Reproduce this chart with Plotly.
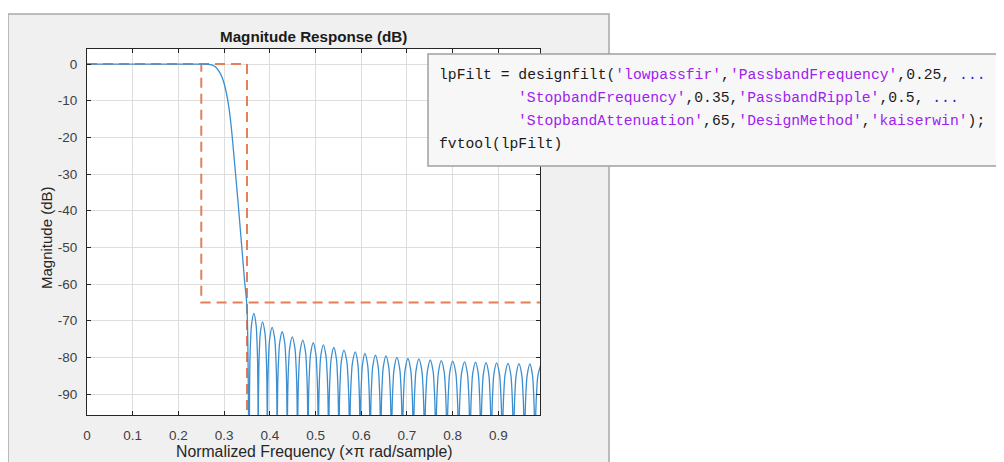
import plotly.graph_objects as go

# ---------------- data ----------------
# passband + transition band of the magnitude response
trans_freq = [0.0, 0.05, 0.10, 0.15, 0.20, 0.25, 0.26, 0.265, 0.27, 0.275, 0.28, 0.285,
              0.29, 0.295, 0.30, 0.305, 0.31, 0.315, 0.32, 0.325, 0.33, 0.335, 0.34,
              0.345, 0.35]
trans_db = [0.0, 0.0, 0.0, 0.0, 0.0, 0.0, -0.02, -0.06, -0.15, -0.35, -0.7, -1.3,
            -2.2, -3.5, -5.3, -7.9, -11.5, -16.5, -23.0, -30.0, -37.0, -44.5, -52.0,
            -59.5, -66.5]

# stopband: null positions and sidelobe peaks
null_freq = [0.355, 0.3745, 0.3945, 0.416, 0.438, 0.4605, 0.4835, 0.506, 0.5285,
             0.551, 0.5745, 0.5975, 0.6195, 0.6425, 0.666, 0.690, 0.714, 0.7385,
             0.763, 0.7875, 0.813, 0.838, 0.8615, 0.8845, 0.9085, 0.933, 0.957, 0.980]
peak_freq = [0.365, 0.384, 0.405, 0.427, 0.449, 0.472, 0.495, 0.517, 0.540,
             0.562, 0.587, 0.608, 0.631, 0.654, 0.678, 0.702, 0.726, 0.751,
             0.775, 0.800, 0.826, 0.850, 0.873, 0.896, 0.921, 0.945, 0.969, 0.993]
peak_db = [-68.0, -70.3, -71.8, -73.0, -74.4, -75.3, -76.0, -76.6, -77.3,
           -78.0, -78.5, -78.9, -79.4, -79.6, -80.0, -80.3, -80.4, -80.7,
           -80.9, -81.0, -81.2, -81.3, -81.4, -81.5, -81.6, -81.7, -81.8, -81.9]
null_db = -130.0
# sidelobe outline as seen in the picture: fraction of the way from peak to null,
# and drop below the peak (dB)
lobe_frac = [0.5, 0.7, 0.85, 0.95]
lobe_drop = [-3.0, -7.0, -12.5, -22.0]

# specification mask
f_pass, f_stop = 0.25, 0.35
a_pass, a_stop = 0.0, -65.0

x_ticks = [0, 0.1, 0.2, 0.3, 0.4, 0.5, 0.6, 0.7, 0.8, 0.9]
x_tick_text = ["0", "0.1", "0.2", "0.3", "0.4", "0.5", "0.6", "0.7", "0.8", "0.9"]
y_ticks = [0, -10, -20, -30, -40, -50, -60, -70, -80, -90]
y_tick_text = ["0", "-10", "-20", "-30", "-40", "-50", "-60", "-70", "-80", "-90"]

code_lines = [
    ("lpFilt = designfilt(", [("'lowpassfir'", "s"), (",", "k"), ("'PassbandFrequency'", "s"),
                              (",0.25, ", "k"), ("...", "c")]),
    ("", [("'StopbandFrequency'", "s"), (",0.35,", "k"), ("'PassbandRipple'", "s"),
          (",0.5, ", "k"), ("...", "c")]),
    ("", [("'StopbandAttenuation'", "s"), (",65,", "k"), ("'DesignMethod'", "s"),
          (",", "k"), ("'kaiserwin'", "s"), (");", "k")]),
    ("fvtool(lpFilt)", []),
]

# ---------------- stopband outline from the readings ----------------
stop_x, stop_y = [], []
for i, pf in enumerate(peak_freq):
    nl = null_freq[i]
    nr = null_freq[i + 1] if i + 1 < len(null_freq) else None
    stop_x.append(nl)
    stop_y.append(null_db)
    for fr, dr in zip(reversed(lobe_frac), reversed(lobe_drop)):
        stop_x.append(pf - fr * (pf - nl))
        stop_y.append(peak_db[i] + dr)
    stop_x.append(pf)
    stop_y.append(peak_db[i])
    if nr is not None:
        for fr, dr in zip(lobe_frac, lobe_drop):
            stop_x.append(pf + fr * (nr - pf))
            stop_y.append(peak_db[i] + dr)

resp_x = trans_freq + stop_x
resp_y = trans_db + stop_y

# ---------------- geometry (reference pixels; page body has an 8px margin) ----------------
OFF = 8
W, H = 1004 - OFF, 462 - OFF
L, R, T, B = 87, 540, 49, 415


def px(x):
    return (x - L) / (R - L)


def py(y):
    return (B - y) / (B - T)


BLUE = "#3b8ed0"
ORANGE = "#e2805a"
FONT = "Liberation Sans"

fig = go.Figure()

# mask
fig.add_trace(go.Scatter(x=[0, f_stop, f_stop], y=[a_pass, a_pass, -200],
                         mode="lines", line=dict(color=ORANGE, width=2, dash="10px,6px"),
                         hoverinfo="skip", showlegend=False))
fig.add_trace(go.Scatter(x=[0, f_pass, f_pass, 1.0], y=[a_pass, a_pass, a_stop, a_stop],
                         mode="lines", line=dict(color=ORANGE, width=2, dash="10px,6px"),
                         hoverinfo="skip", showlegend=False))
# response
fig.add_trace(go.Scatter(x=resp_x, y=resp_y, mode="lines",
                         line=dict(color=BLUE, width=1.3, shape="spline", smoothing=1.0),
                         hoverinfo="skip", showlegend=False))

shapes = [
    dict(type="rect", xref="paper", yref="paper", layer="below",
         x0=px(8), x1=px(609), y0=py(480), y1=py(14),
         fillcolor="#f0f0f0", line=dict(color="#a8a8a8", width=1.5)),
    dict(type="rect", xref="paper", yref="paper", layer="below",
         x0=0, x1=1, y0=0, y1=1, fillcolor="white", line=dict(width=0)),
    dict(type="rect", xref="paper", yref="paper", layer="above",
         x0=px(428), x1=px(1000), y0=py(166), y1=py(54),
         fillcolor="#f7f7f7", line=dict(color="#a0a0a0", width=1.5)),
]

annotations = [
    dict(text="<b>Magnitude Response (dB)</b>", x=px((L + R) / 2), y=py(36),
         xref="paper", yref="paper", showarrow=False, xanchor="center", yanchor="middle",
         font=dict(family=FONT, size=15.2, color="#1a1a1a")),
    dict(text="Normalized Frequency (×π rad/sample)", x=px((L + R) / 2), y=py(451),
         xref="paper", yref="paper", showarrow=False, xanchor="center", yanchor="middle",
         font=dict(family=FONT, size=15.8, color="#262626")),
    dict(text="Magnitude (dB)", x=px(46), y=py(238), textangle=-90,
         xref="paper", yref="paper", showarrow=False, xanchor="center", yanchor="middle",
         font=dict(family=FONT, size=15, color="#262626")),
]

colors = {"s": "#A020F0", "k": "#1a1a1a", "c": "#2b2bd0"}
line_y = [75, 98, 121, 144]
for i, (head, parts) in enumerate(code_lines):
    txt = head
    for seg, kind in parts:
        txt += "<span style='color:%s'>%s</span>" % (colors[kind], seg)
    x0 = 437 if head else 516
    annotations.append(dict(text=txt, x=px(x0), y=py(line_y[i]), xref="paper", yref="paper",
                            showarrow=False, xanchor="left", yanchor="middle",
                            font=dict(family="Liberation Mono", size=14.7, color="#1a1a1a")))

fig.update_layout(
    width=W, height=H,
    margin=dict(l=L - OFF, r=W - (R - OFF), t=T - OFF, b=H - (B - OFF), pad=0),
    paper_bgcolor="white", plot_bgcolor="white",
    shapes=shapes, annotations=annotations,
    showlegend=False,
)
axis_common = dict(showline=True, linecolor="#262626", linewidth=1, mirror="ticks",
                   ticks="inside", ticklen=4, tickcolor="#262626", tickwidth=1,
                   showgrid=True, gridcolor="#dedede", gridwidth=1, zeroline=False,
                   tickfont=dict(family=FONT, size=13.5, color="#404040"))
fig.update_xaxes(range=[0, 0.991], tickvals=x_ticks, ticktext=x_tick_text,
                 ticklabelstandoff=8, **axis_common)
fig.update_yaxes(range=[-95.7, 4.1], tickvals=y_ticks, ticktext=y_tick_text,
                 ticklabelstandoff=6, **axis_common)

fig.write_html("out.html")
